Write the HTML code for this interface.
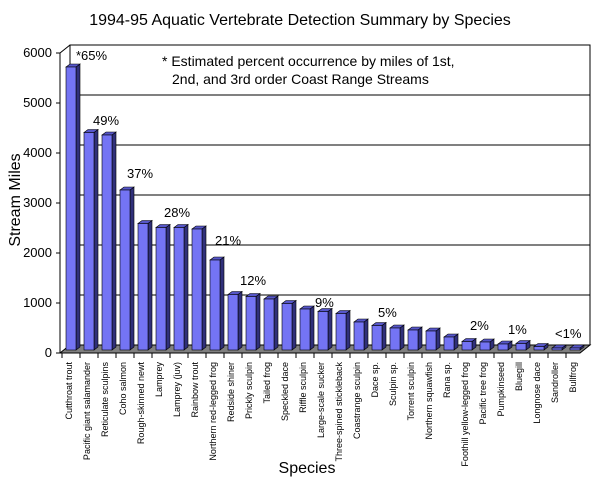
<!DOCTYPE html>
<html><head><meta charset="utf-8"><style>
html,body{margin:0;padding:0;background:#fff;}
svg{display:block;font-family:"Liberation Sans",Arial,sans-serif;}
.s{fill:#30307a;stroke:#000;stroke-width:0.6}
.t{fill:#5656c8;stroke:#000;stroke-width:0.6}
.f{fill:#7474f4;stroke:#000;stroke-width:0.6}
</style></head><body>
<svg width="600" height="490" viewBox="0 0 600 490" xmlns="http://www.w3.org/2000/svg">
<rect width="600" height="490" fill="#fff"/>
<text x="300" y="25" font-size="16" text-anchor="middle">1994-95 Aquatic Vertebrate Detection Summary by Species</text>
<rect x="70" y="45" width="520" height="300" fill="#fff" stroke="#000" stroke-width="1"/>
<g stroke="#000" stroke-width="1">
<line x1="70" y1="95" x2="590" y2="95"/>
<line x1="70" y1="145" x2="590" y2="145"/>
<line x1="70" y1="195" x2="590" y2="195"/>
<line x1="70" y1="245" x2="590" y2="245"/>
<line x1="70" y1="295" x2="590" y2="295"/>
<line x1="60" y1="53" x2="70" y2="45"/>
</g>
<polygon points="60,353 70,345 590,345 580,353" fill="#808080" stroke="#000" stroke-width="1"/>
<line x1="60" y1="53" x2="60" y2="353" stroke="#000"/>
<g stroke="#000"><line x1="56" y1="53" x2="60" y2="53"/><line x1="56" y1="103" x2="60" y2="103"/><line x1="56" y1="153" x2="60" y2="153"/><line x1="56" y1="203" x2="60" y2="203"/><line x1="56" y1="253" x2="60" y2="253"/><line x1="56" y1="303" x2="60" y2="303"/><line x1="56" y1="353" x2="60" y2="353"/></g>
<g font-size="13" text-anchor="end">
<text x="52" y="57">6000</text><text x="52" y="107">5000</text><text x="52" y="157">4000</text><text x="52" y="207">3000</text><text x="52" y="257">2000</text><text x="52" y="307">1000</text><text x="52" y="357">0</text>
</g>
<text transform="translate(20,200) rotate(-90)" font-size="16" text-anchor="middle">Stream Miles</text>
<text x="307" y="473" font-size="16" text-anchor="middle">Species</text>
<text x="162" y="66" font-size="14">* Estimated percent occurrence by miles of 1st,</text>
<text x="172" y="84" font-size="14">2nd, and 3rd order Coast Range Streams</text>
<g font-size="13">
<text x="76" y="60">*65%</text><text x="93" y="125">49%</text><text x="127" y="178">37%</text><text x="164" y="217">28%</text><text x="215" y="245">21%</text><text x="240" y="285">12%</text><text x="315" y="307">9%</text><text x="378" y="317">5%</text><text x="470" y="330">2%</text><text x="508" y="334">1%</text><text x="555" y="338">&lt;1%</text>
</g>

<g transform="translate(0,0)"><polygon class="s" points="76,67 80,64 80,347 76,350"/><polygon class="t" points="66,67 70,64 80,64 76,67"/><rect class="f" x="66" y="67" width="10" height="283"/></g>
<g transform="translate(18,0)"><polygon class="s" points="76,132.5 80,129.5 80,347 76,350"/><polygon class="t" points="66,132.5 70,129.5 80,129.5 76,132.5"/><rect class="f" x="66" y="132.5" width="10" height="217.5"/></g>
<g transform="translate(36,0)"><polygon class="s" points="76,135 80,132 80,347 76,350"/><polygon class="t" points="66,135 70,132 80,132 76,135"/><rect class="f" x="66" y="135" width="10" height="215"/></g>
<g transform="translate(54,0)"><polygon class="s" points="76,190 80,187 80,347 76,350"/><polygon class="t" points="66,190 70,187 80,187 76,190"/><rect class="f" x="66" y="190" width="10" height="160"/></g>
<g transform="translate(72,0)"><polygon class="s" points="76,223.5 80,220.5 80,347 76,350"/><polygon class="t" points="66,223.5 70,220.5 80,220.5 76,223.5"/><rect class="f" x="66" y="223.5" width="10" height="126.5"/></g>
<g transform="translate(90,0)"><polygon class="s" points="76,227.5 80,224.5 80,347 76,350"/><polygon class="t" points="66,227.5 70,224.5 80,224.5 76,227.5"/><rect class="f" x="66" y="227.5" width="10" height="122.5"/></g>
<g transform="translate(108,0)"><polygon class="s" points="76,227.5 80,224.5 80,347 76,350"/><polygon class="t" points="66,227.5 70,224.5 80,224.5 76,227.5"/><rect class="f" x="66" y="227.5" width="10" height="122.5"/></g>
<g transform="translate(126,0)"><polygon class="s" points="76,229 80,226 80,347 76,350"/><polygon class="t" points="66,229 70,226 80,226 76,229"/><rect class="f" x="66" y="229" width="10" height="121"/></g>
<g transform="translate(144,0)"><polygon class="s" points="76,260 80,257 80,347 76,350"/><polygon class="t" points="66,260 70,257 80,257 76,260"/><rect class="f" x="66" y="260" width="10" height="90"/></g>
<g transform="translate(162,0)"><polygon class="s" points="76,294.5 80,291.5 80,347 76,350"/><polygon class="t" points="66,294.5 70,291.5 80,291.5 76,294.5"/><rect class="f" x="66" y="294.5" width="10" height="55.5"/></g>
<g transform="translate(180,0)"><polygon class="s" points="76,296.5 80,293.5 80,347 76,350"/><polygon class="t" points="66,296.5 70,293.5 80,293.5 76,296.5"/><rect class="f" x="66" y="296.5" width="10" height="53.5"/></g>
<g transform="translate(198,0)"><polygon class="s" points="76,299 80,296 80,347 76,350"/><polygon class="t" points="66,299 70,296 80,296 76,299"/><rect class="f" x="66" y="299" width="10" height="51"/></g>
<g transform="translate(216,0)"><polygon class="s" points="76,303.5 80,300.5 80,347 76,350"/><polygon class="t" points="66,303.5 70,300.5 80,300.5 76,303.5"/><rect class="f" x="66" y="303.5" width="10" height="46.5"/></g>
<g transform="translate(234,0)"><polygon class="s" points="76,309 80,306 80,347 76,350"/><polygon class="t" points="66,309 70,306 80,306 76,309"/><rect class="f" x="66" y="309" width="10" height="41"/></g>
<g transform="translate(252,0)"><polygon class="s" points="76,311.5 80,308.5 80,347 76,350"/><polygon class="t" points="66,311.5 70,308.5 80,308.5 76,311.5"/><rect class="f" x="66" y="311.5" width="10" height="38.5"/></g>
<g transform="translate(270,0)"><polygon class="s" points="76,313.5 80,310.5 80,347 76,350"/><polygon class="t" points="66,313.5 70,310.5 80,310.5 76,313.5"/><rect class="f" x="66" y="313.5" width="10" height="36.5"/></g>
<g transform="translate(288,0)"><polygon class="s" points="76,322 80,319 80,347 76,350"/><polygon class="t" points="66,322 70,319 80,319 76,322"/><rect class="f" x="66" y="322" width="10" height="28"/></g>
<g transform="translate(306,0)"><polygon class="s" points="76,325.5 80,322.5 80,347 76,350"/><polygon class="t" points="66,325.5 70,322.5 80,322.5 76,325.5"/><rect class="f" x="66" y="325.5" width="10" height="24.5"/></g>
<g transform="translate(324,0)"><polygon class="s" points="76,328 80,325 80,347 76,350"/><polygon class="t" points="66,328 70,325 80,325 76,328"/><rect class="f" x="66" y="328" width="10" height="22"/></g>
<g transform="translate(342,0)"><polygon class="s" points="76,330 80,327 80,347 76,350"/><polygon class="t" points="66,330 70,327 80,327 76,330"/><rect class="f" x="66" y="330" width="10" height="20"/></g>
<g transform="translate(360,0)"><polygon class="s" points="76,331 80,328 80,347 76,350"/><polygon class="t" points="66,331 70,328 80,328 76,331"/><rect class="f" x="66" y="331" width="10" height="19"/></g>
<g transform="translate(378,0)"><polygon class="s" points="76,337 80,334 80,347 76,350"/><polygon class="t" points="66,337 70,334 80,334 76,337"/><rect class="f" x="66" y="337" width="10" height="13"/></g>
<g transform="translate(396,0)"><polygon class="s" points="76,341.5 80,338.5 80,347 76,350"/><polygon class="t" points="66,341.5 70,338.5 80,338.5 76,341.5"/><rect class="f" x="66" y="341.5" width="10" height="8.5"/></g>
<g transform="translate(414,0)"><polygon class="s" points="76,342 80,339 80,347 76,350"/><polygon class="t" points="66,342 70,339 80,339 76,342"/><rect class="f" x="66" y="342" width="10" height="8"/></g>
<g transform="translate(432,0)"><polygon class="s" points="76,344 80,341 80,347 76,350"/><polygon class="t" points="66,344 70,341 80,341 76,344"/><rect class="f" x="66" y="344" width="10" height="6"/></g>
<g transform="translate(450,0)"><polygon class="s" points="76,343.5 80,340.5 80,347 76,350"/><polygon class="t" points="66,343.5 70,340.5 80,340.5 76,343.5"/><rect class="f" x="66" y="343.5" width="10" height="6.5"/></g>
<g transform="translate(468,0)"><polygon class="s" points="76,346.5 80,343.5 80,347 76,350"/><polygon class="t" points="66,346.5 70,343.5 80,343.5 76,346.5"/><rect class="f" x="66" y="346.5" width="10" height="3.5"/></g>
<g transform="translate(486,0)"><polygon class="s" points="76,348 80,345 80,347 76,350"/><polygon class="t" points="66,348 70,345 80,345 76,348"/><rect class="f" x="66" y="348" width="10" height="2"/></g>
<g transform="translate(504,0)"><polygon class="s" points="76,348 80,345 80,347 76,350"/><polygon class="t" points="66,348 70,345 80,345 76,348"/><rect class="f" x="66" y="348" width="10" height="2"/></g>

<g stroke="#000">
<line x1="80" y1="353" x2="80" y2="358"/><line x1="98" y1="353" x2="98" y2="358"/><line x1="116" y1="353" x2="116" y2="358"/><line x1="134" y1="353" x2="134" y2="358"/><line x1="152" y1="353" x2="152" y2="358"/><line x1="170" y1="353" x2="170" y2="358"/><line x1="188" y1="353" x2="188" y2="358"/><line x1="206" y1="353" x2="206" y2="358"/><line x1="224" y1="353" x2="224" y2="358"/><line x1="242" y1="353" x2="242" y2="358"/><line x1="260" y1="353" x2="260" y2="358"/><line x1="278" y1="353" x2="278" y2="358"/><line x1="296" y1="353" x2="296" y2="358"/><line x1="314" y1="353" x2="314" y2="358"/><line x1="332" y1="353" x2="332" y2="358"/><line x1="350" y1="353" x2="350" y2="358"/><line x1="368" y1="353" x2="368" y2="358"/><line x1="386" y1="353" x2="386" y2="358"/><line x1="404" y1="353" x2="404" y2="358"/><line x1="422" y1="353" x2="422" y2="358"/><line x1="440" y1="353" x2="440" y2="358"/><line x1="458" y1="353" x2="458" y2="358"/><line x1="476" y1="353" x2="476" y2="358"/><line x1="494" y1="353" x2="494" y2="358"/><line x1="512" y1="353" x2="512" y2="358"/><line x1="530" y1="353" x2="530" y2="358"/><line x1="548" y1="353" x2="548" y2="358"/><line x1="566" y1="353" x2="566" y2="358"/><line x1="62" y1="353" x2="62" y2="358"/>
</g>
<g font-size="9" text-anchor="end">
<text transform="translate(72,362) rotate(-90)">Cutthroat trout</text>
<text transform="translate(90,362) rotate(-90)">Pacific giant salamander</text>
<text transform="translate(108,362) rotate(-90)">Reticulate sculpins</text>
<text transform="translate(126,362) rotate(-90)">Coho salmon</text>
<text transform="translate(144,362) rotate(-90)">Rough-skinned newt</text>
<text transform="translate(162,362) rotate(-90)">Lamprey</text>
<text transform="translate(180,362) rotate(-90)">Lamprey (juv)</text>
<text transform="translate(198,362) rotate(-90)">Rainbow trout</text>
<text transform="translate(216,362) rotate(-90)">Northern red-legged frog</text>
<text transform="translate(234,362) rotate(-90)">Redside shiner</text>
<text transform="translate(252,362) rotate(-90)">Prickly sculpin</text>
<text transform="translate(270,362) rotate(-90)">Tailed frog</text>
<text transform="translate(288,362) rotate(-90)">Speckled dace</text>
<text transform="translate(306,362) rotate(-90)">Riffle sculpin</text>
<text transform="translate(324,362) rotate(-90)">Large-scale sucker</text>
<text transform="translate(342,362) rotate(-90)">Three-spined stickleback</text>
<text transform="translate(360,362) rotate(-90)">Coastrange sculpin</text>
<text transform="translate(378,362) rotate(-90)">Dace sp.</text>
<text transform="translate(396,362) rotate(-90)">Sculpin sp.</text>
<text transform="translate(414,362) rotate(-90)">Torrent sculpin</text>
<text transform="translate(432,362) rotate(-90)">Northern squawfish</text>
<text transform="translate(450,362) rotate(-90)">Rana sp.</text>
<text transform="translate(468,362) rotate(-90)">Foothill yellow-legged frog</text>
<text transform="translate(486,362) rotate(-90)">Pacific tree frog</text>
<text transform="translate(504,362) rotate(-90)">Pumpkinseed</text>
<text transform="translate(522,362) rotate(-90)">Bluegill</text>
<text transform="translate(540,362) rotate(-90)">Longnose dace</text>
<text transform="translate(558,362) rotate(-90)">Sandroller</text>
<text transform="translate(576,362) rotate(-90)">Bullfrog</text>
</g>
</svg>
</body></html>
